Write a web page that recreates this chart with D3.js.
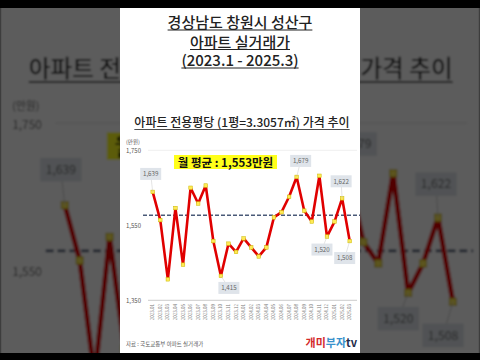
<!DOCTYPE html>
<html>
<head>
<meta charset="utf-8">
<script src="https://cdn.jsdelivr.net/npm/d3@7"></script>
<style>
  body { margin: 0; background: #000; }
  svg { display: block; }
  text { font-family: 'Noto Sans CJK KR', 'Noto Sans', sans-serif; }
</style>
</head>
<body>
<svg id="chart" width="480" height="360"></svg>
<script>
// 월별 전용평당 가격 (만원)
var months = ["2023.01","2023.02","2023.03","2023.04","2023.05","2023.06","2023.07","2023.08","2023.09",
  "2023.10","2023.11","2023.12","2024.01","2024.02","2024.03","2024.04","2024.05","2024.06",
  "2024.07","2024.08","2024.09","2024.10","2024.11","2024.12","2025.01","2025.02","2025.03"]
var prices = [1639, 1564, 1406, 1596, 1445, 1650, 1608, 1656, 1508,
  1415, 1501, 1479, 1515, 1491, 1467, 1491, 1571, 1585,
  1626, 1679, 1589, 1560, 1682, 1520, 1560, 1622, 1508]
var labelIdx = [0, 9, 19, 23, 25, 26]
var labelOffset = [[-2, -18], [8, 12], [4, -16], [-5, 13], [-1, -17], [-5, 17]]
var yTicks = [1350, 1550, 1750]
var avgValue = 1553
var avgLineValue = 1577   // 원본의 점선 위치

var fmt = d3.format(",")
var svg = d3.select("#chart")

var x = d3.scalePoint().domain(months).range([152.7, 349.7])
var y = d3.scaleLinear().domain([1350, 1750]).range([300.3, 150.3])

// full == false : 배경용 (화면 밖으로 나가는 제목/축라벨/출처 생략)
function drawPanel(g, full) {
    g.append("rect").attr("x", 120).attr("y", 0).attr("width", 240).attr("height", 360).attr("fill", "#fff")

    if (full) {
        var titles = [["경상남도 창원시 성산구", 28], ["아파트 실거래가", 47.5], ["(2023.1 - 2025.3)", 66]]
        titles.forEach(t => {
            var txt = g.append("text").attr("x", 240).attr("y", t[1]).attr("text-anchor", "middle")
                .attr("font-size", 15).attr("font-weight", 500).attr("fill", "#222").text(t[0])
            var w = txt.node().getComputedTextLength()
            g.append("line").attr("x1", 240 - w / 2).attr("x2", 240 + w / 2)
                .attr("y1", t[1] + 2).attr("y2", t[1] + 2).attr("stroke", "#222").attr("stroke-width", 1)
        })
    }

    var sub = g.append("text").attr("x", 242).attr("y", 127).attr("text-anchor", "middle")
        .attr("font-size", 12).attr("font-weight", 500).attr("fill", "#222")
        .text("아파트 전용평당 (1평=3.3057㎡) 가격 추이")
    var sw = sub.node().getComputedTextLength()
    g.append("line").attr("x1", 242 - sw / 2).attr("x2", 242 + sw / 2).attr("y1", 129.5).attr("y2", 129.5)
        .attr("stroke", "#222").attr("stroke-width", 0.8)

    // grid / axis
    g.append("line").attr("x1", 148).attr("x2", 357).attr("y1", y(1750)).attr("y2", y(1750))
        .attr("stroke", "#e4e4e4").attr("stroke-width", 0.6)
    g.append("line").attr("x1", 148).attr("x2", 357).attr("y1", y(1350)).attr("y2", y(1350))
        .attr("stroke", "#bfbfbf").attr("stroke-width", 0.8)

    g.append("text").attr("x", 126).attr("y", 143.5).attr("font-size", 5.5).attr("fill", "#555").text("(만원)")
    g.selectAll(".ytick").data(full ? yTicks : yTicks.slice(1)).enter().append("text")
        .attr("x", 141).attr("y", d => y(d) + 2.8).attr("text-anchor", "end")
        .attr("font-size", 6).attr("fill", "#555").text(d => fmt(d))

    if (full) {
        g.selectAll(".xtick").data(months).enter().append("text")
            .attr("transform", d => "translate(" + (x(d) + 1.5) + ",304) rotate(-90)")
            .attr("text-anchor", "end").attr("font-size", 4.5).attr("fill", "#777").text(d => d)
    }

    // 평균 점선
    g.append("line").attr("x1", 143).attr("x2", 360).attr("y1", y(avgLineValue)).attr("y2", y(avgLineValue))
        .attr("stroke", "#4a5a78").attr("stroke-width", 1.4).attr("stroke-dasharray", "4,2")

    var line = d3.line().x((d, i) => x(months[i])).y(d => y(d))
    g.append("path").datum(prices).attr("d", line).attr("fill", "none")
        .attr("stroke", "#e00000").attr("stroke-width", 2.6).attr("stroke-linejoin", "round")

    g.selectAll(".mk").data(prices).enter().append("rect")
        .attr("x", (d, i) => x(months[i]) - 1.8).attr("y", d => y(d) - 1.8)
        .attr("width", 3.6).attr("height", 3.6)
        .attr("fill", "#ffea55").attr("stroke", "#c9b800").attr("stroke-width", 0.5)

    labelIdx.forEach((k, j) => {
        var px = x(months[k]), py = y(prices[k])
        var cx = px + labelOffset[j][0], cy = py + labelOffset[j][1]
        g.append("line").attr("x1", px).attr("y1", py).attr("x2", cx).attr("y2", cy)
            .attr("stroke", "#bbb").attr("stroke-width", 0.4)
        g.append("rect").attr("x", cx - 10.5).attr("y", cy - 6).attr("width", 21).attr("height", 12)
            .attr("fill", "#dfe4ea")
        g.append("text").attr("x", cx).attr("y", cy + 2.2).attr("text-anchor", "middle")
            .attr("font-size", 6.2).attr("fill", "#666").text(fmt(prices[k]))
    })

    // 월 평균 박스
    g.append("rect").attr("x", 174).attr("y", 155).attr("width", 103).attr("height", 14).attr("fill", "#ffff1a")
    g.append("text").attr("x", 225.5).attr("y", 166.5).attr("text-anchor", "middle")
        .attr("font-size", 11.5).attr("font-weight", 700).attr("fill", "#111")
        .text("월 평균 : " + fmt(avgValue) + "만원")

    if (full) {
        g.append("text").attr("x", 126).attr("y", 346).attr("font-size", 5.5).attr("fill", "#555")
            .text("자료 : 국토교통부 아파트 실거래가")
        var brand = g.append("text").attr("x", 357).attr("y", 347).attr("text-anchor", "end")
            .attr("font-size", 11).attr("font-weight", 700)
        brand.append("tspan").attr("fill", "#d42a2a").text("개미")
        brand.append("tspan").attr("fill", "#3a92cc").text("부자")
        brand.append("tspan").attr("fill", "#1d2b4a").text("tv")
    }
}

// 배경: 확대 + 흐림 + 어둡게
var defs = svg.append("defs")
defs.append("filter").attr("id", "blur").append("feGaussianBlur").attr("stdDeviation", 1.2)
defs.append("clipPath").attr("id", "panelClip").append("rect")
    .attr("x", 120).attr("y", 0).attr("width", 240).attr("height", 360)

var bg = svg.append("g").attr("filter", "url(#blur)")
bg.append("rect").attr("width", 480).attr("height", 360).attr("fill", "#fff")
drawPanel(bg.append("g").attr("transform", "translate(-236,-173) scale(1.97)"), false)
svg.append("rect").attr("width", 480).attr("height", 360).attr("fill", "#000").attr("opacity", 0.64)

var fg = svg.append("g").attr("clip-path", "url(#panelClip)")
drawPanel(fg, true)

svg.append("rect").attr("x", 0).attr("y", 0).attr("width", 480).attr("height", 8).attr("fill", "#000")
svg.append("rect").attr("x", 0).attr("y", 353).attr("width", 480).attr("height", 7).attr("fill", "#000")
</script>
</body>
</html>
